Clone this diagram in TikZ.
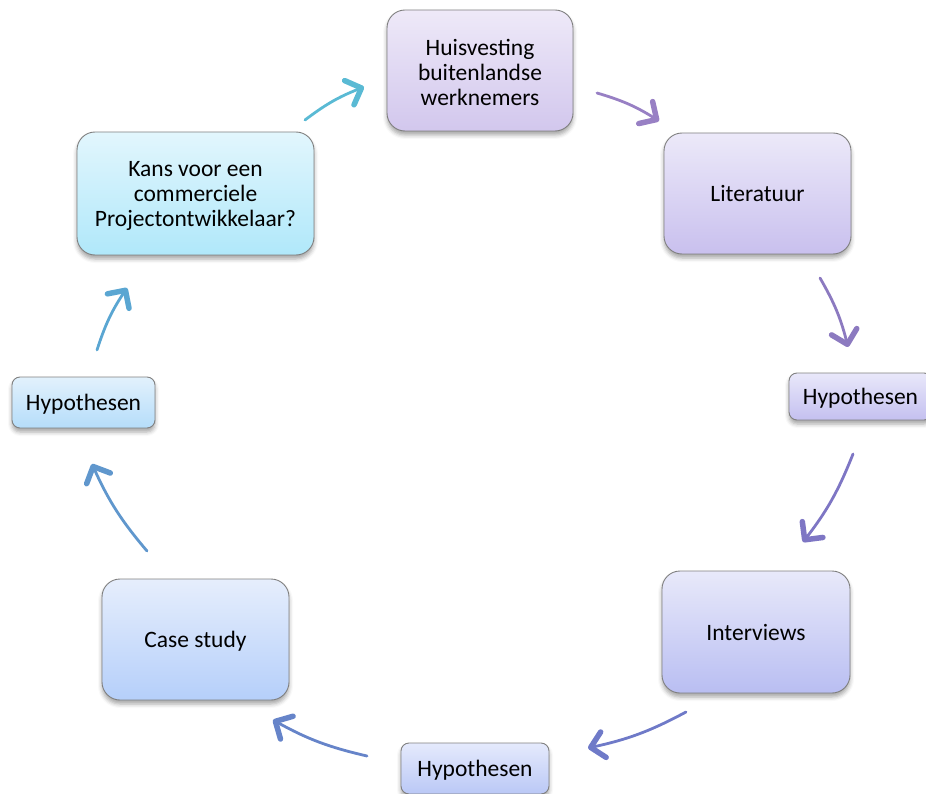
\documentclass[tikz,border=0pt]{standalone}
\usepackage{fontspec}
\setmainfont{Carlito}
\usetikzlibrary{arrows.meta,shadows.blur}
\definecolor{boxgray}{RGB}{128,128,128}
\definecolor{hvtop}{RGB}{238,233,248}
\definecolor{hvbot}{RGB}{210,199,237}
\definecolor{littop}{RGB}{236,233,249}
\definecolor{litbot}{RGB}{201,192,238}
\definecolor{hyrtop}{RGB}{233,232,250}
\definecolor{hyrbot}{RGB}{196,192,240}
\definecolor{inttop}{RGB}{232,233,250}
\definecolor{intbot}{RGB}{185,190,242}
\definecolor{hybtop}{RGB}{229,234,252}
\definecolor{hybbot}{RGB}{186,200,246}
\definecolor{castop}{RGB}{230,238,252}
\definecolor{casbot}{RGB}{181,207,250}
\definecolor{hyltop}{RGB}{226,241,252}
\definecolor{hylbot}{RGB}{181,221,250}
\definecolor{kanstop}{RGB}{226,246,253}
\definecolor{kansbot}{RGB}{176,232,250}
\definecolor{arrA}{RGB}{152,128,196}
\definecolor{arrB}{RGB}{140,122,192}
\definecolor{arrC}{RGB}{126,118,196}
\definecolor{arrD}{RGB}{111,122,200}
\definecolor{arrE}{RGB}{102,132,201}
\definecolor{arrF}{RGB}{96,151,205}
\definecolor{arrG}{RGB}{90,166,210}
\definecolor{arrH}{RGB}{90,186,212}

\begin{document}
\begin{tikzpicture}[x=1pt, y=-1pt,
    stage/.style={draw=boxgray, line width=0.9pt, rounded corners=18pt, minimum width=186pt, minimum height=121pt, align=center, inner sep=4pt, font=\fontsize{23.5}{25}\selectfont, blur shadow={shadow xshift=0pt, shadow yshift=-4pt, shadow blur radius=4pt, shadow opacity=35}},
    oneline/.style={text height=20.5pt, text depth=4pt},
    multiline/.style={text height=71pt},
    hyp/.style={stage, oneline, rounded corners=8pt, minimum width=143pt, minimum height=49pt},
    cyclearrow/.style={line width=2.8pt, line cap=round, -{Straight Barb[length=13pt, width=26pt, line width=5.5pt, round]}}
]
\useasboundingbox (0,0) rectangle (926,794);

\node[stage, multiline, top color=hvtop, bottom color=hvbot] (huisv) at (480,70.5) {Huisvesting\\buitenlandse\\werknemers};
\node[stage, oneline, top color=littop, bottom color=litbot, minimum width=187pt] (lit) at (757.5,193.5) {Literatuur};
\node[hyp, top color=hyrtop, bottom color=hyrbot, minimum height=47pt] (hypr) at (860.5,396.5) {Hypothesen};
\node[stage, oneline, top color=inttop, bottom color=intbot, minimum width=188pt, minimum height=122pt] (interv) at (756,632) {Interviews};
\node[hyp, top color=hybtop, bottom color=hybbot, minimum width=148pt, minimum height=51pt] (hypb) at (475,768.5) {Hypothesen};
\node[stage, oneline, top color=castop, bottom color=casbot, minimum width=187pt] (case) at (195.5,639.5) {Case study};
\node[hyp, top color=hyltop, bottom color=hylbot, minimum height=51pt] (hypl) at (83.5,402.5) {Hypothesen};
\node[stage, multiline, top color=kanstop, bottom color=kansbot, minimum width=237pt, minimum height=123pt] (kans) at (195.5,193.5) {Kans voor een\\commerciele\\Projectontwikkelaar?};

\coordinate (a1s) at (597,93);   \coordinate (a1e) at (659,121);
\coordinate (a2s) at (820,278);  \coordinate (a2e) at (848,347);
\coordinate (a3s) at (853,454);  \coordinate (a3e) at (803,542);
\coordinate (a4s) at (686,712);  \coordinate (a4e) at (588,748);
\coordinate (a5s) at (367,756);  \coordinate (a5e) at (273,720);
\coordinate (a6s) at (147,551);  \coordinate (a6e) at (92,464);
\coordinate (a7s) at (97,350);   \coordinate (a7e) at (127,288);
\coordinate (a8s) at (305,120);  \coordinate (a8e) at (364,87);

\draw[cyclearrow, arrA] (a1s) to[bend left=8] (a1e);
\draw[cyclearrow, arrB] (a2s) to[bend left=8] (a2e);
\draw[cyclearrow, arrC] (a3s) to[bend left=8] (a3e);
\draw[cyclearrow, arrD] (a4s) to[bend left=8] (a4e);
\draw[cyclearrow, arrE] (a5s) to[bend left=8] (a5e);
\draw[cyclearrow, arrF] (a6s) to[bend left=8] (a6e);
\draw[cyclearrow, arrG] (a7s) to[bend left=8] (a7e);
\draw[cyclearrow, arrH] (a8s) to[bend left=8] (a8e);

\end{tikzpicture}
\end{document}
